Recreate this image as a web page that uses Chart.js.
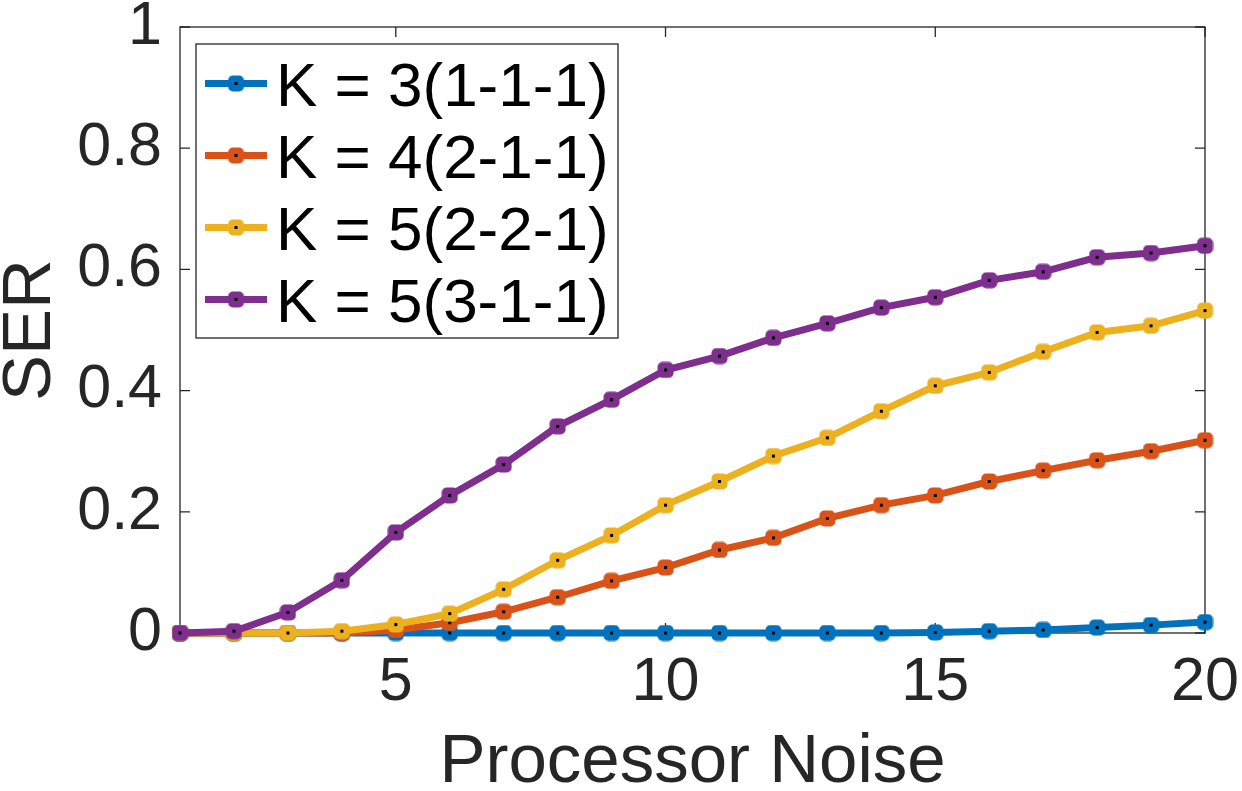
<!DOCTYPE html>
<html>
<head>
<meta charset="utf-8">
<title>SER vs Processor Noise</title>
<script src="https://cdn.jsdelivr.net/npm/chart.js@4.4.1/dist/chart.umd.min.js"></script>
<style>
  html, body { margin: 0; padding: 0; background: #fff; }
  #wrap { width: 1242px; height: 791px; }
</style>
</head>
<body>
<div id="wrap"><canvas id="chart" width="1242" height="791"></canvas></div>
<script>
// data
const noise = [1, 2, 3, 4, 5, 6, 7, 8, 9, 10, 11, 12, 13, 14, 15, 16, 17, 18, 19, 20];
const serK3_111 = [0, 0, 0, 0, 0, 0, 0, 0, 0, 0, 0, 0, 0, 0, 0.001, 0.003, 0.005, 0.009, 0.013, 0.018];
const serK4_211 = [0, 0, 0, 0, 0.005, 0.017, 0.035, 0.059, 0.086, 0.108, 0.137, 0.157, 0.189, 0.211, 0.227, 0.250, 0.268, 0.285, 0.300, 0.318];
const serK5_221 = [0, 0, 0, 0.003, 0.014, 0.032, 0.072, 0.120, 0.161, 0.211, 0.250, 0.292, 0.322, 0.366, 0.408, 0.430, 0.464, 0.496, 0.507, 0.532];
const serK5_311 = [0, 0.003, 0.034, 0.087, 0.166, 0.227, 0.278, 0.341, 0.385, 0.434, 0.457, 0.487, 0.511, 0.537, 0.554, 0.582, 0.596, 0.620, 0.627, 0.639];
const seriesLabels = ['K = 3(1-1-1)', 'K = 4(2-1-1)', 'K = 5(2-2-1)', 'K = 5(3-1-1)'];
const xTicks = [5, 10, 15, 20];
const yTicks = [0, 0.2, 0.4, 0.6, 0.8, 1];
const yTickLabels = ['0', '0.2', '0.4', '0.6', '0.8', '1'];

const colors = ['#0072BD', '#D95319', '#EDB120', '#7E2F8E'];
const FONT = "'Liberation Sans', Arial, Helvetica, sans-serif";
const TEXT = '#262626';

// square marker with a black dot, like the matlab one
function makeMarker(color) {
  const cv = document.createElement('canvas');
  cv.width = 17; cv.height = 17;
  const g = cv.getContext('2d');
  g.fillStyle = color;
  g.beginPath();
  g.roundRect(0.5, 0.5, 16, 16, 5);
  g.fill();
  g.fillStyle = '#000';
  g.fillRect(7, 7, 3, 3);
  return cv;
}
const markers = colors.map(makeMarker);

const allSeries = [serK3_111, serK4_211, serK5_221, serK5_311];
const datasets = allSeries.map((vals, i) => ({
  label: seriesLabels[i],
  data: noise.map((x, j) => ({ x: x, y: vals[j] })),
  borderColor: colors[i],
  backgroundColor: colors[i],
  borderWidth: 7,
  pointStyle: markers[i],
  pointRadius: 8,
  pointHoverRadius: 8,
  clip: false,
  order: allSeries.length - i // purple on top, blue at the bottom
}));

// box round the plot + inward ticks on all four sides
const framePlugin = {
  id: 'frame',
  beforeDatasetsDraw(chart) {
    const { ctx, chartArea: a, scales: { x, y } } = chart;
    ctx.save();
    ctx.strokeStyle = TEXT;
    ctx.lineWidth = 1.3;
    ctx.strokeRect(a.left, a.top, a.right - a.left, a.bottom - a.top);
    ctx.beginPath();
    const tl = 10;
    xTicks.forEach(v => {
      const px = x.getPixelForValue(v);
      ctx.moveTo(px, a.bottom); ctx.lineTo(px, a.bottom - tl);
      ctx.moveTo(px, a.top); ctx.lineTo(px, a.top + tl);
    });
    yTicks.forEach(v => {
      const py = y.getPixelForValue(v);
      ctx.moveTo(a.left, py); ctx.lineTo(a.left + tl, py);
      ctx.moveTo(a.right, py); ctx.lineTo(a.right - tl, py);
    });
    ctx.stroke();
    ctx.restore();
  }
};

// legend box inside the axes, top left
const legendPlugin = {
  id: 'boxLegend',
  afterDraw(chart) {
    const { ctx, chartArea: a } = chart;
    const bx = a.left + 16, by = a.top + 17, bw = 422, bh = 294;
    ctx.save();
    ctx.fillStyle = '#fff';
    ctx.fillRect(bx, by, bw, bh);
    ctx.strokeStyle = TEXT;
    ctx.lineWidth = 1.3;
    ctx.strokeRect(bx, by, bw, bh);
    ctx.font = '62px ' + FONT;
    ctx.textBaseline = 'alphabetic';
    ctx.textAlign = 'left';
    chart.data.datasets.forEach((ds, i) => {
      const cy = by + 39.5 + i * 72;
      ctx.strokeStyle = ds.borderColor;
      ctx.lineWidth = 7;
      ctx.beginPath();
      ctx.moveTo(bx + 9, cy);
      ctx.lineTo(bx + 71, cy);
      ctx.stroke();
      const m = ds.pointStyle;
      ctx.drawImage(m, bx + 40 - m.width / 2, cy - m.height / 2);
      ctx.fillStyle = '#000';
      ctx.fillText(ds.label, bx + 80, cy + 22.5);
    });
    ctx.restore();
  }
};

new Chart(document.getElementById('chart'), {
  type: 'line',
  data: { datasets: datasets },
  options: {
    responsive: false,
    devicePixelRatio: 1,
    animation: false,
    layout: { padding: { top: 27, right: 37, left: 0, bottom: 0 } },
    plugins: {
      legend: { display: false },
      tooltip: { enabled: false }
    },
    scales: {
      x: {
        type: 'linear',
        min: 1,
        max: 20,
        afterBuildTicks: s => { s.ticks = xTicks.map(v => ({ value: v })); },
        afterFit: s => {
          s.height = 158;
          s.paddingLeft = 0; s.paddingRight = 0;
        },
        grid: { display: false, drawTicks: false },
        border: { display: false },
        ticks: {
          color: TEXT,
          font: { family: FONT, size: 61 },
          padding: 14,
          maxRotation: 0,
          autoSkip: false
        },
        title: {
          display: true,
          text: 'Processor Noise',
          color: TEXT,
          font: { family: FONT, size: 69, lineHeight: 1 },
          padding: { top: 0, bottom: -6 }
        }
      },
      y: {
        type: 'linear',
        min: 0,
        max: 1,
        afterBuildTicks: s => { s.ticks = yTicks.map(v => ({ value: v })); },
        afterFit: s => {
          s.width = 180;
          s.paddingTop = 0; s.paddingBottom = 0;
        },
        grid: { display: false, drawTicks: false },
        border: { display: false },
        ticks: {
          color: TEXT,
          font: { family: FONT, size: 61 },
          padding: 18,
          callback: (v) => yTickLabels[yTicks.indexOf(v)]
        },
        title: {
          display: true,
          text: 'SER',
          color: TEXT,
          font: { family: FONT, size: 69, lineHeight: 0.9 },
          padding: 0
        }
      }
    }
  },
  plugins: [framePlugin, legendPlugin]
});
</script>
</body>
</html>
